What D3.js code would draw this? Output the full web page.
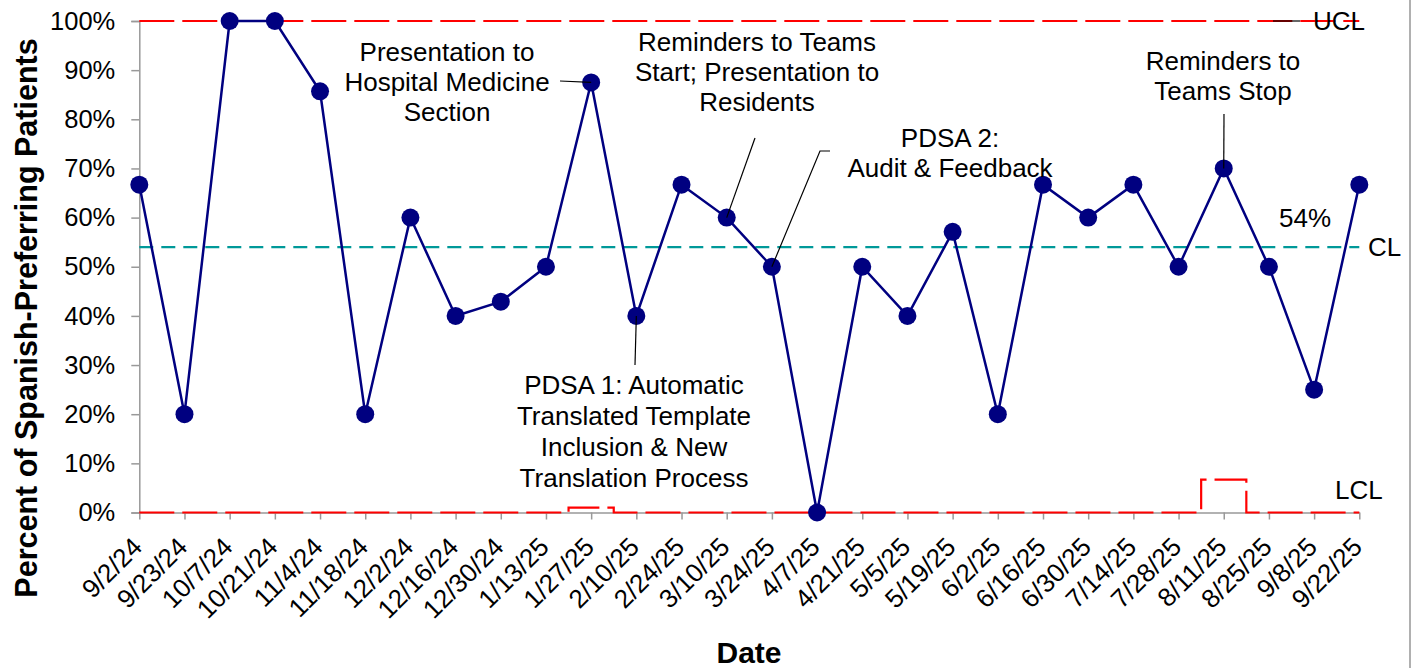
<!DOCTYPE html>
<html>
<head>
<meta charset="utf-8">
<script src="https://cdn.jsdelivr.net/npm/d3@7"></script>
<style>
  body { margin: 0; background: #fff; }
  svg { display: block; font-family: "Liberation Sans", Arial, sans-serif; }
</style>
</head>
<body>
<div id="chart"></div>
<script>
// Data
const dates = ["9/2/24", "9/23/24", "10/7/24", "10/21/24", "11/4/24", "11/18/24", "12/2/24",
  "12/16/24", "12/30/24", "1/13/25", "1/27/25", "2/10/25", "2/24/25", "3/10/25", "3/24/25",
  "4/7/25", "4/21/25", "5/5/25", "5/19/25", "6/2/25", "6/16/25", "6/30/25", "7/14/25",
  "7/28/25", "8/11/25", "8/25/25", "9/8/25", "9/22/25"];

const percent = [66.7, 20, 100, 100, 85.7, 20, 60, 40, 42.9, 50, 87.5, 40, 66.7, 60, 50,
  0, 50, 40, 57.1, 20, 66.7, 60, 66.7, 50, 70, 50, 25, 66.7];

const ucl = dates.map(() => 100);
const lcl = [0, 0, 0, 0, 0, 0, 0, 0, 0, 0, 1.0, 0, 0, 0, 0,
  0, 0, 0, 0, 0, 0, 0, 0, 0, 6.7, 0, 0, 0];
const centerLine = 54;

const yTicks = [0, 10, 20, 30, 40, 50, 60, 70, 80, 90, 100];

const notes = [
  { date: "1/27/25", lines: ["Presentation to", "Hospital Medicine", "Section"] },
  { date: "3/10/25", lines: ["Reminders to Teams", "Start; Presentation to", "Residents"] },
  { date: "3/24/25", lines: ["PDSA 2:", "Audit & Feedback"] },
  { date: "2/10/25", lines: ["PDSA 1: Automatic", "Translated Template", "Inclusion & New", "Translation Process"] },
  { date: "8/11/25", lines: ["Reminders to", "Teams Stop"] }
];

const width = 1419, height = 668;
const plot = { left: 139.3, right: 1359.3, top: 21, bottom: 512.5 };

const svg = d3.select("#chart").append("svg")
  .attr("width", width)
  .attr("height", height);

const x = d3.scalePoint().domain(dates).range([plot.left, plot.right]);
const y = d3.scaleLinear().domain([0, 100]).range([plot.bottom, plot.top]);

// right frame edge
svg.append("line")
  .attr("x1", 1410).attr("x2", 1410).attr("y1", 0).attr("y2", height)
  .attr("stroke", "#b0b0b0").attr("stroke-width", 2);

// Axes
const yAxis = svg.append("g")
  .attr("transform", `translate(${plot.left},0)`)
  .call(d3.axisLeft(y).tickValues(yTicks).tickSize(8).tickPadding(16).tickFormat(d => d + "%"));
yAxis.select(".domain").attr("stroke", "#999").attr("stroke-width", 1.5);
yAxis.selectAll(".tick line").attr("stroke", "#999").attr("stroke-width", 1.5);
yAxis.selectAll(".tick text")
  .attr("font-size", 25.5)
  .attr("fill", "#000")
  .attr("font-family", "Liberation Sans, Arial, sans-serif");

const xAxis = svg.append("g")
  .attr("transform", `translate(0,${plot.bottom})`)
  .call(d3.axisBottom(x).tickSize(7).tickSizeOuter(0));
xAxis.select(".domain").attr("stroke", "#999").attr("stroke-width", 1.5);
xAxis.selectAll(".tick line").attr("stroke", "#999").attr("stroke-width", 1.5);
xAxis.selectAll(".tick text")
  .attr("font-size", 26)
  .attr("fill", "#000")
  .attr("font-family", "Liberation Sans, Arial, sans-serif")
  .attr("text-anchor", "end")
  .attr("dy", null)
  .attr("y", null)
  .attr("transform", "translate(4,36) rotate(-45)");

// Control limits
const line = d3.line().x((d, i) => x(dates[i])).y(d => y(d));
const stepLine = d3.line().x((d, i) => x(dates[i])).y(d => y(d)).curve(d3.curveStep);

svg.append("path")
  .attr("d", line(ucl))
  .attr("fill", "none").attr("stroke", "#ff0000").attr("stroke-width", 2.2)
  .attr("stroke-dasharray", "35,8");

svg.append("path")
  .attr("d", stepLine(lcl))
  .attr("fill", "none").attr("stroke", "#ff0000").attr("stroke-width", 2.2)
  .attr("stroke-dasharray", "35,8");

svg.append("path")
  .attr("d", line(dates.map(() => centerLine)))
  .attr("fill", "none").attr("stroke", "#009999").attr("stroke-width", 2.2)
  .attr("stroke-dasharray", "14,8");

// Data series
svg.append("path")
  .attr("d", line(percent))
  .attr("fill", "none").attr("stroke", "#000080").attr("stroke-width", 2.5);

svg.append("g").selectAll("circle")
  .data(percent)
  .join("circle")
  .attr("cx", (d, i) => x(dates[i]))
  .attr("cy", d => y(d))
  .attr("r", 9)
  .attr("fill", "#000080");

// Limit labels
const labelFont = 26;
svg.append("line")
  .attr("x1", 1273).attr("x2", 1300).attr("y1", y(100)).attr("y2", y(100))
  .attr("stroke", "#000").attr("stroke-width", 1.2);
svg.append("text").attr("x", 1313).attr("y", y(100)).attr("dy", "0.35em")
  .attr("font-size", labelFont).text("UCL");
svg.append("text").attr("x", 1368).attr("y", y(centerLine)).attr("dy", "0.35em")
  .attr("font-size", labelFont).text("CL");
svg.append("text").attr("x", 1279).attr("y", y(centerLine) - 29).attr("dy", "0.35em")
  .attr("font-size", labelFont).text(centerLine + "%");
svg.append("text").attr("x", 1335).attr("y", y(0) - 23).attr("dy", "0.35em")
  .attr("font-size", labelFont).text("LCL");

// Annotations: label block position and leader line start
const notePlace = [
  { cx: 447, cy: 52, gap: 30, leader: [[560, 81]] },
  { cx: 757, cy: 42, gap: 30, leader: [[755, 138]] },
  { cx: 950, cy: 138, gap: 30, leader: [[830, 151], [820, 151]] },
  { cx: 634, cy: 385, gap: 31, leader: [[635, 365]] },
  { cx: 1223, cy: 61, gap: 30, leader: [[1224, 114]] }
];

notes.forEach((n, k) => {
  const p = notePlace[k];
  const i = dates.indexOf(n.date);
  const pts = p.leader.concat([[x(n.date), y(percent[i])]]);
  svg.append("path")
    .attr("d", d3.line()(pts))
    .attr("fill", "none").attr("stroke", "#000").attr("stroke-width", 1.2);
  const t = svg.append("text")
    .attr("text-anchor", "middle")
    .attr("font-size", labelFont);
  n.lines.forEach((s, j) => {
    t.append("tspan")
      .attr("x", p.cx)
      .attr("y", p.cy + j * p.gap)
      .attr("dy", "0.35em")
      .text(s);
  });
});

// Axis titles
svg.append("text")
  .attr("x", 749).attr("y", 652).attr("dy", "0.35em")
  .attr("text-anchor", "middle")
  .attr("font-size", 30).attr("font-weight", "bold")
  .text("Date");

svg.append("text")
  .attr("transform", "translate(26,318) rotate(-90)")
  .attr("dy", "0.35em")
  .attr("text-anchor", "middle")
  .attr("font-size", 30.5).attr("font-weight", "bold")
  .text("Percent of Spanish-Preferring Patients");
</script>
</body>
</html>
